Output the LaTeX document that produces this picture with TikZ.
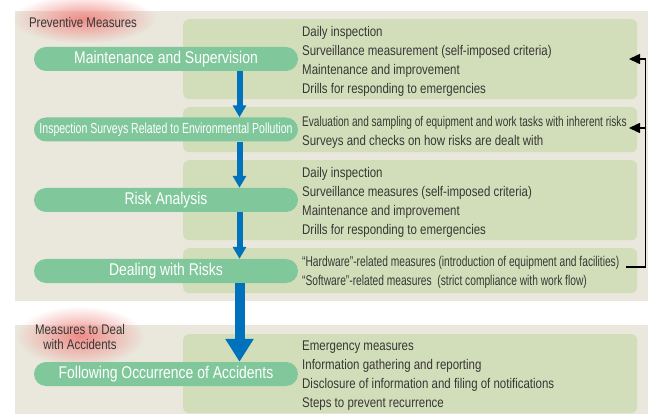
\documentclass[tikz,border=0pt]{standalone}
\usepackage{fontspec}
\setmainfont{Liberation Sans}[FakeStretch=0.82]
\newfontfamily\narrowfont{Liberation Sans}[FakeStretch=0.72, Ligatures=TeX]
\usepackage{tikz}
\usetikzlibrary{arrows.meta,fadings}

\definecolor{panelbg}{RGB}{234,231,220}
\definecolor{boxgreen}{RGB}{210,222,185}
\definecolor{pillgreen}{RGB}{128,200,155}
\definecolor{flowblue}{RGB}{0,114,188}
\definecolor{txtgray}{RGB}{55,55,55}
\definecolor{glowred}{RGB}{240,140,135}
\tikzfading[name=glowfade, inner color=transparent!0, outer color=transparent!100]

\begin{document}
\begin{tikzpicture}[x=1pt, y=-1pt]
\tikzstyle{pill}=[fill=pillgreen, rounded corners=12pt, minimum width=264pt, minimum height=24pt, inner sep=0pt, text=white, font=\fontsize{17}{19}\selectfont]
\tikzstyle{panel}=[fill=boxgreen, rounded corners=6pt, anchor=north west, minimum width=454pt, inner sep=0pt]
\tikzstyle{items}=[anchor=west, align=left, inner sep=0pt, text=txtgray, font=\fontsize{14}{19}\selectfont]
\tikzstyle{flow}=[draw=flowblue, line width=6pt, -{Triangle[length=12pt, width=13pt]}]
\tikzstyle{bigflow}=[draw=flowblue, line width=10pt, -{Triangle[length=23pt, width=27pt]}]
\tikzstyle{feedback}=[line width=1.6pt, -{Triangle[length=11pt, width=10pt]}]
\tikzstyle{heading}=[text=txtgray, align=center, inner sep=0pt, font=\fontsize{14}{15}\selectfont]
\useasboundingbox (0,0) rectangle (648,414);

% background areas
\fill[panelbg] (15,11) rectangle (648,301);
\fill[panelbg] (15,325) rectangle (648,414);
\fill[glowred, path fading=glowfade] (84,19) ellipse (72pt and 24pt);
\fill[glowred, path fading=glowfade] (80,336) ellipse (64pt and 30pt);

% green boxes
\node (B1) [panel, minimum height=80pt] at (183,19) {};
\node (B2) [panel, minimum height=45pt] at (183,107) {};
\node (B3) [panel, minimum height=80pt] at (183,160) {};
\node (B4) [panel, minimum height=45pt] at (183,248) {};
\node (B5) [panel, minimum height=79pt] at (183,334) {};

\node (H1) [heading] at (83,22) {Preventive Measures};
\node (H2) [heading] at (80,337) {Measures to Deal\\with Accidents};

% steps
\node (P1) [pill] at (166,59) {Maintenance and Supervision};
\node (P2) [pill, font=\narrowfont\fontsize{14.6}{16}\selectfont] at (166,129.5) {Inspection Surveys Related to Environmental Pollution};
\node (P3) [pill] at (166,200) {Risk Analysis};
\node (P4) [pill] at (166,271) {Dealing with Risks};
\node (P5) [pill] at (166,374) {Following Occurrence of Accidents};

% details
\node (T1) [items] at (302,61.5) {Daily inspection\\Surveillance measurement (self-imposed criteria)\\Maintenance and improvement\\Drills for responding to emergencies};
\node (T2) [items] at (302,132) {{\narrowfont\fontsize{14}{15}\selectfont Evaluation and sampling of equipment and work tasks with inherent risks}\\Surveys and checks on how risks are dealt with};
\node (T3) [items] at (302,202) {Daily inspection\\Surveillance measures (self-imposed criteria)\\Maintenance and improvement\\Drills for responding to emergencies};
\node (T4) [items, font=\narrowfont\fontsize{14.2}{19}\selectfont] at (302,272) {“Hardware”-related measures (introduction of equipment and facilities)\\“Software”-related measures\ \ (strict compliance with work flow)};
\node (T5) [items] at (302,375.5) {Emergency measures\\Information gathering and reporting\\Disclosure of information and filing of notifications\\Steps to prevent recurrence};

% flow arrows
\coordinate (ax) at (239.5,0);
\draw [flow] (P1.south -| ax) -- (P2.north -| ax);
\draw [flow] (P2.south -| ax) -- (P3.north -| ax);
\draw [flow] (P3.south -| ax) -- (P4.north -| ax);
\draw [bigflow] (P4.south -| ax) -- (P5.north -| ax);

% feedback loop
\coordinate (F0) at (626,267);
\coordinate (F1) at (629,59);
\coordinate (F2) at (629,128);
\coordinate (FV) at (645.5,128);
\draw [feedback] (F0) -| (645.5,59) -- (F1);
\draw [feedback] (FV) -- (F2);
\end{tikzpicture}
\end{document}
